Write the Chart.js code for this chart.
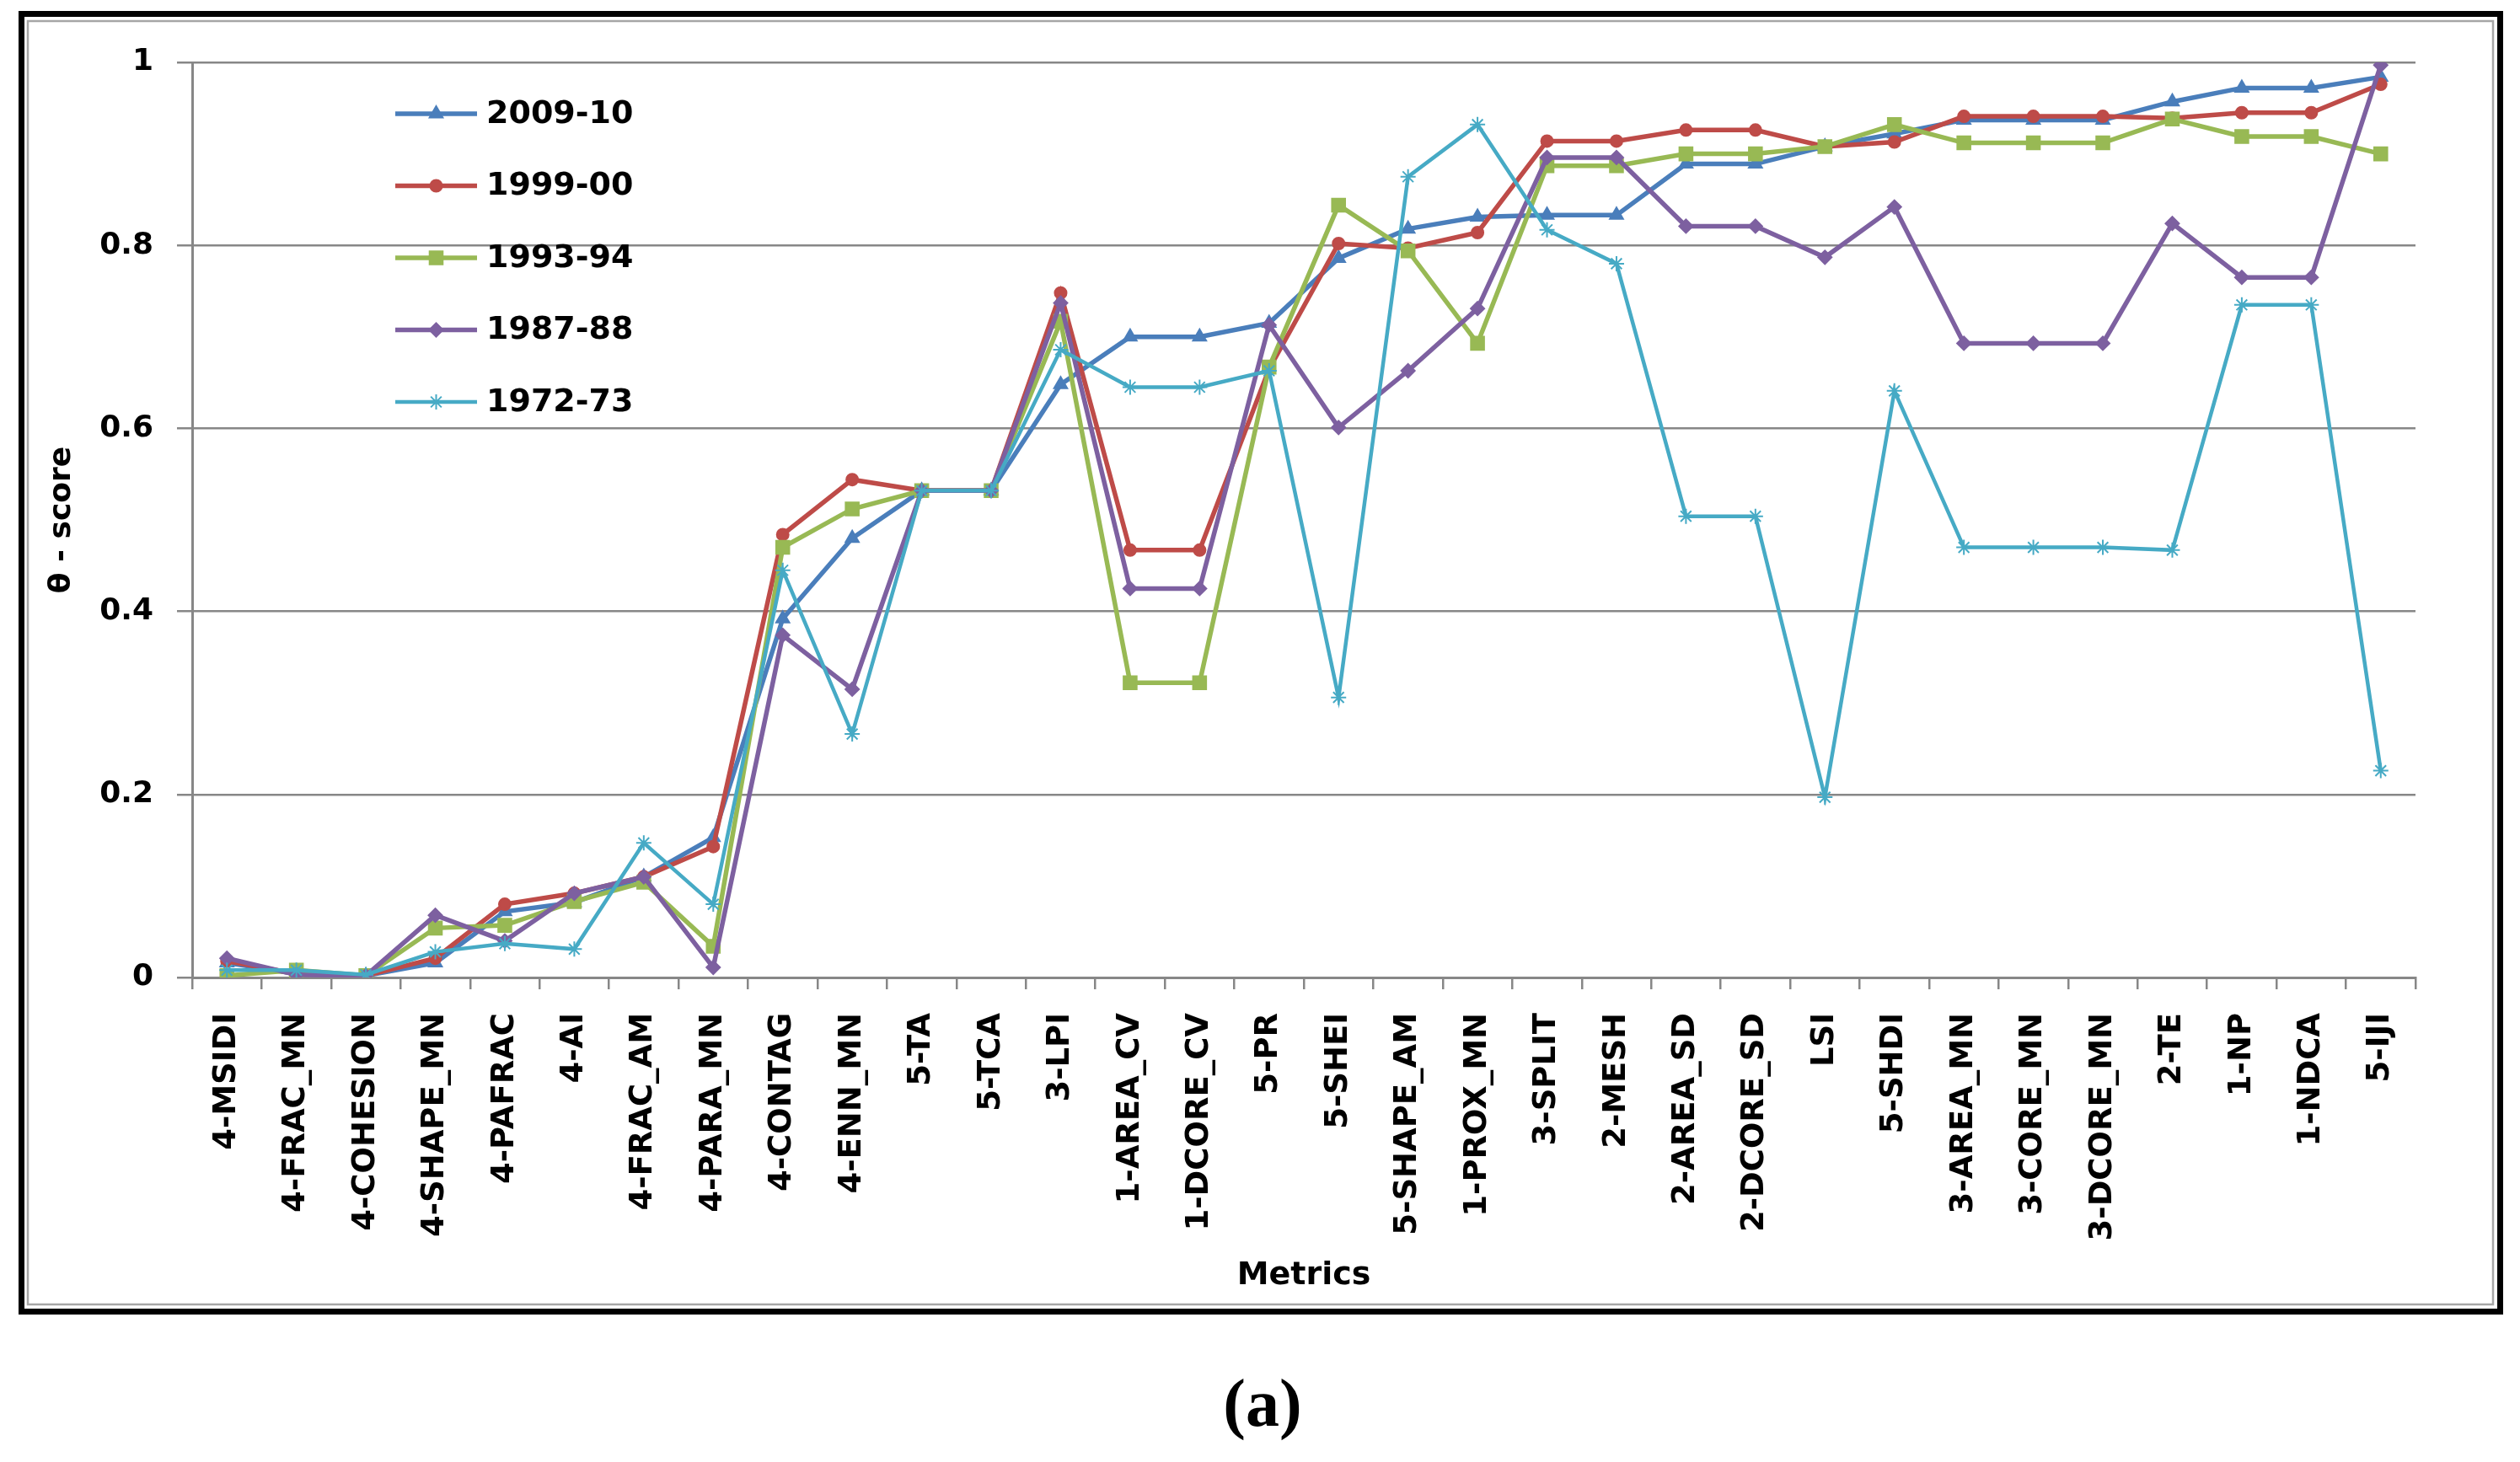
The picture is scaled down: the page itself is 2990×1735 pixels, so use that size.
<!DOCTYPE html>
<html>
<head>
<meta charset="utf-8">
<title>theta score by metric</title>
<script src="https://cdn.jsdelivr.net/npm/chart.js@4.4.1/dist/chart.umd.min.js"></script>
<style>
  html, body { margin: 0; padding: 0; background: #fff; }
  canvas { display: block; }
</style>
</head>
<body>
<canvas id="metricsChart" width="2990" height="1735"></canvas>
<script>
/*****************************************************************************/
/* Data */
/*****************************************************************************/
var metrics = ["4-MSIDI", "4-FRAC_MN", "4-COHESION", "4-SHAPE_MN", "4-PAFRAC", "4-AI",
    "4-FRAC_AM", "4-PARA_MN", "4-CONTAG", "4-ENN_MN", "5-TA", "5-TCA", "3-LPI",
    "1-AREA_CV", "1-DCORE_CV", "5-PR", "5-SHEI", "5-SHAPE_AM", "1-PROX_MN", "3-SPLIT",
    "2-MESH", "2-AREA_SD", "2-DCORE_SD", "LSI", "5-SHDI", "3-AREA_MN", "3-CORE_MN",
    "3-DCORE_MN", "2-TE", "1-NP", "1-NDCA", "5-IJI"];

var seriesNames = ["2009-10", "1999-00", "1993-94", "1987-88", "1972-73"];

var score2009 = [0.016, 0.004, 0.002, 0.016, 0.072, 0.082, 0.110, 0.153, 0.392, 0.480, 0.532, 0.532,
    0.648, 0.700, 0.700, 0.715, 0.786, 0.818, 0.831, 0.833, 0.833, 0.889, 0.889, 0.908, 0.922,
    0.937, 0.937, 0.937, 0.957, 0.972, 0.972, 0.984];
var score1999 = [0.018, 0.004, 0.002, 0.021, 0.080, 0.092, 0.110, 0.143, 0.484, 0.544, 0.532, 0.532,
    0.748, 0.467, 0.467, 0.665, 0.802, 0.797, 0.814, 0.914, 0.914, 0.926, 0.926, 0.908, 0.913,
    0.941, 0.941, 0.941, 0.939, 0.945, 0.945, 0.976];
var score1993 = [0.002, 0.008, 0.002, 0.054, 0.057, 0.083, 0.104, 0.034, 0.470, 0.512, 0.532, 0.532,
    0.717, 0.322, 0.322, 0.667, 0.844, 0.794, 0.693, 0.887, 0.887, 0.900, 0.900, 0.908, 0.932,
    0.912, 0.912, 0.912, 0.938, 0.919, 0.919, 0.900];
var score1987 = [0.021, 0.003, 0.002, 0.068, 0.040, 0.092, 0.110, 0.011, 0.374, 0.315, 0.532, 0.532,
    0.737, 0.425, 0.425, 0.713, 0.601, 0.663, 0.731, 0.896, 0.896, 0.821, 0.821, 0.787, 0.842,
    0.693, 0.693, 0.693, 0.824, 0.765, 0.765, 0.997];
var score1972 = [0.008, 0.008, 0.003, 0.028, 0.037, 0.031, 0.147, 0.080, 0.445, 0.266, 0.532, 0.532,
    0.686, 0.645, 0.645, 0.663, 0.306, 0.875, 0.932, 0.817, 0.780, 0.504, 0.504, 0.197, 0.641,
    0.470, 0.470, 0.470, 0.467, 0.735, 0.735, 0.226];

var yTicks = [0, 0.2, 0.4, 0.6, 0.8, 1];

/*****************************************************************************/
/* Styles */
/*****************************************************************************/
var lineColors = ["#4A7EBB", "#BE4B48", "#98B954", "#7D60A0", "#46AAC5"];
var markerStyles = ["triangle", "circle", "rect", "rectRot", "star"];
var markerSizes = [9, 7, 11, 8, 9];
var lineWidths = [5.5, 5.5, 5.5, 5.5, 4.5];
var gridGray = "#878787";

function makeDataset(i, values) {
    return {
        label: seriesNames[i],
        data: values,
        borderColor: lineColors[i],
        backgroundColor: lineColors[i],
        borderWidth: lineWidths[i],
        pointStyle: markerStyles[i],
        pointRadius: markerSizes[i],
        pointBackgroundColor: lineColors[i],
        pointBorderColor: lineColors[i],
        pointBorderWidth: 2,
        tension: 0,
        fill: false,
        // last series sits on top, like the original
        order: 4 - i
    };
}

// outer double frame (thick black + thin grey) on white, and the "(a)" caption
var framePlugin = {
    id: "frame",
    beforeDraw: function (chart) {
        var ctx = chart.ctx;
        ctx.save();
        ctx.fillStyle = "#ffffff";
        ctx.fillRect(0, 0, chart.width, chart.height);
        ctx.strokeStyle = "#000000";
        ctx.lineWidth = 7;
        ctx.strokeRect(25.5, 16.5, 2941, 1540);
        ctx.strokeStyle = "#a6a6a6";
        ctx.lineWidth = 2.5;
        ctx.strokeRect(33, 25, 2925, 1523);

        ctx.fillStyle = "#000000";
        ctx.font = "bold 80px 'Liberation Serif', 'Times New Roman', serif";
        ctx.textAlign = "center";
        ctx.textBaseline = "middle";
        ctx.fillText("(a)", 1498, 1671);
        ctx.restore();
    }
};

// legend drawn inside the plot, upper left
var insideLegend = {
    id: "insideLegend",
    afterDraw: function (chart) {
        var ctx = chart.ctx;
        var x0 = 469, x1 = 566, textX = 577;
        var y0 = 135, step = 85.5;
        ctx.save();
        chart.data.datasets.forEach(function (ds, i) {
            var y = y0 + i * step;
            ctx.strokeStyle = ds.borderColor;
            ctx.lineWidth = ds.borderWidth;
            ctx.beginPath();
            ctx.moveTo(x0, y);
            ctx.lineTo(x1, y);
            ctx.stroke();
            ctx.fillStyle = ds.pointBackgroundColor;
            ctx.strokeStyle = ds.pointBorderColor;
            ctx.lineWidth = ds.pointBorderWidth;
            if (Chart.helpers && Chart.helpers.drawPoint) {
                Chart.helpers.drawPoint(ctx, {
                    pointStyle: ds.pointStyle,
                    radius: ds.pointRadius,
                    rotation: 0,
                    borderWidth: ds.pointBorderWidth
                }, (x0 + x1) / 2, y);
            }
            ctx.fillStyle = "#000000";
            ctx.font = "bold 38px 'DejaVu Sans'";
            ctx.textAlign = "left";
            ctx.textBaseline = "middle";
            ctx.fillText(ds.label, textX, y + 1);
        });
        ctx.restore();
    }
};

/*****************************************************************************/
/* Chart */
/*****************************************************************************/
var ctx = document.getElementById("metricsChart").getContext("2d");

new Chart(ctx, {
    type: "line",
    data: {
        labels: metrics,
        datasets: [
            makeDataset(0, score2009),
            makeDataset(1, score1999),
            makeDataset(2, score1993),
            makeDataset(3, score1987),
            makeDataset(4, score1972)
        ]
    },
    options: {
        responsive: false,
        devicePixelRatio: 1,
        animation: false,
        layout: {
            padding: { left: 33, top: 74, right: 124, bottom: 175 }
        },
        plugins: {
            legend: { display: false },
            tooltip: { enabled: false }
        },
        scales: {
            x: {
                offset: true,
                afterFit: function (scale) { scale.height = 400; },
                grid: {
                    offset: true,
                    drawOnChartArea: false,
                    drawTicks: true,
                    tickLength: 14,
                    color: gridGray,
                    lineWidth: 2.5
                },
                border: { display: true, color: gridGray, width: 3 },
                ticks: {
                    autoSkip: false,
                    maxRotation: 90,
                    minRotation: 90,
                    padding: 28,
                    color: "#000000",
                    font: { family: "'DejaVu Sans'", size: 37, weight: "bold" }
                },
                title: {
                    display: true,
                    text: "Metrics",
                    color: "#000000",
                    font: { family: "'DejaVu Sans'", size: 38, weight: "bold", lineHeight: 1.2 },
                    padding: { top: 0, bottom: 23 }
                }
            },
            y: {
                min: 0,
                max: 1,
                afterFit: function (scale) { scale.width = 195; },
                afterBuildTicks: function (scale) {
                    scale.ticks = yTicks.map(function (v) { return { value: v }; });
                },
                grid: {
                    drawTicks: true,
                    tickLength: 18,
                    color: gridGray,
                    lineWidth: 2.5
                },
                border: { display: true, color: gridGray, width: 3 },
                ticks: {
                    padding: 28,
                    color: "#000000",
                    font: { family: "'DejaVu Sans'", size: 36, weight: "bold" },
                    callback: function (v) { return String(Math.round(v * 10) / 10); }
                },
                title: {
                    display: true,
                    text: "\u03b8 - score",
                    color: "#000000",
                    font: { family: "'DejaVu Sans'", size: 36, weight: "bold", lineHeight: 1.2 },
                    padding: { top: 19, bottom: 0 }
                }
            }
        }
    },
    plugins: [framePlugin, insideLegend]
});
</script>
</body>
</html>
